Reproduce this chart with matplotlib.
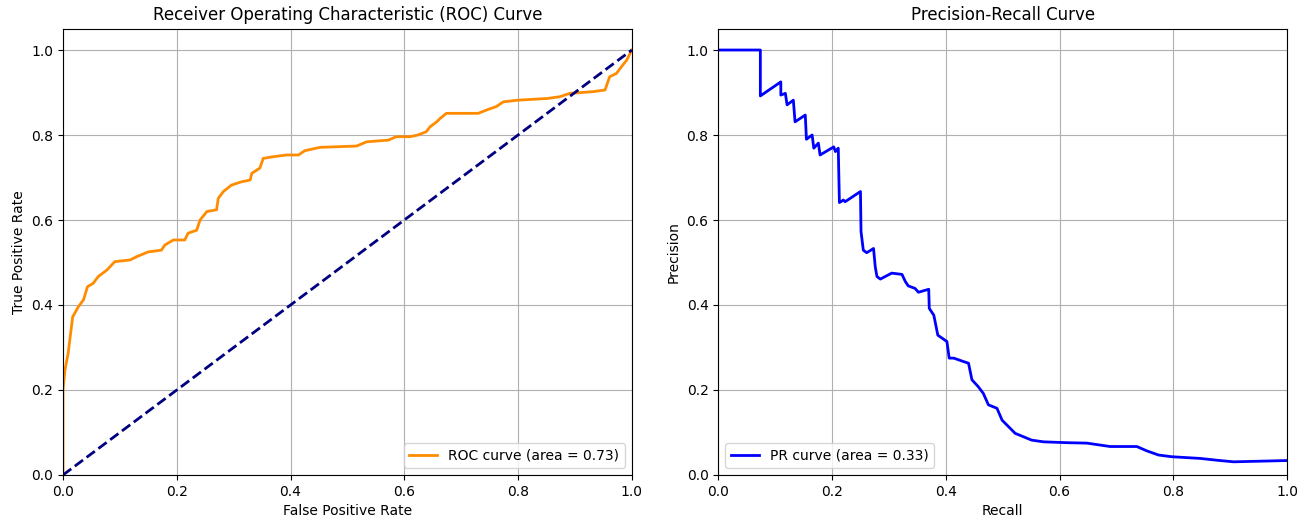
import matplotlib
matplotlib.use("Agg")
import matplotlib.pyplot as plt

# ROC curve points
fpr = [0.0, 0.0, 0.0035, 0.009, 0.017, 0.027, 0.036, 0.043, 0.053, 0.062, 0.077,
       0.091, 0.118, 0.13, 0.15, 0.173, 0.179, 0.194, 0.214, 0.22, 0.235, 0.241,
       0.253, 0.27, 0.273, 0.282, 0.296, 0.314, 0.329, 0.332, 0.346, 0.352, 0.37,
       0.393, 0.414, 0.425, 0.452, 0.516, 0.534, 0.572, 0.586, 0.61, 0.624, 0.639,
       0.645, 0.657, 0.663, 0.674, 0.73, 0.745, 0.762, 0.774, 0.8, 0.852, 0.873,
       0.891, 0.932, 0.953, 0.961, 0.973, 0.982, 0.991, 1.0]
tpr = [0.0, 0.2, 0.247, 0.286, 0.372, 0.396, 0.412, 0.443, 0.451, 0.467, 0.482,
       0.502, 0.506, 0.514, 0.525, 0.529, 0.541, 0.553, 0.553, 0.569, 0.576, 0.6,
       0.62, 0.624, 0.651, 0.667, 0.682, 0.69, 0.694, 0.71, 0.722, 0.745, 0.749,
       0.753, 0.753, 0.763, 0.771, 0.774, 0.784, 0.788, 0.796, 0.796, 0.8, 0.808,
       0.819, 0.831, 0.839, 0.851, 0.851, 0.859, 0.867, 0.878, 0.882, 0.886, 0.89,
       0.898, 0.902, 0.906, 0.937, 0.945, 0.961, 0.976, 1.0]
roc_auc = 0.73

# Precision-recall points
recall = [0.0, 0.074, 0.074, 0.11, 0.11, 0.118, 0.121, 0.132, 0.135, 0.153, 0.155,
          0.165, 0.168, 0.176, 0.179, 0.203, 0.206, 0.211, 0.213, 0.22, 0.223, 0.25,
          0.251, 0.255, 0.261, 0.273, 0.276, 0.279, 0.285, 0.305, 0.323, 0.329,
          0.334, 0.346, 0.352, 0.37, 0.371, 0.379, 0.386, 0.402, 0.406, 0.414,
          0.431, 0.44, 0.446, 0.457, 0.466, 0.475, 0.49, 0.499, 0.522, 0.551,
          0.572, 0.613, 0.648, 0.689, 0.736, 0.753, 0.774, 0.797, 0.847, 0.882,
          0.906, 1.0]
precision = [1.0, 1.0, 0.892, 0.925, 0.894, 0.898, 0.871, 0.882, 0.831, 0.847, 0.79,
             0.8, 0.769, 0.781, 0.753, 0.772, 0.761, 0.769, 0.641, 0.647, 0.643, 0.667,
             0.573, 0.529, 0.523, 0.533, 0.49, 0.467, 0.461, 0.475, 0.472, 0.455,
             0.445, 0.439, 0.43, 0.437, 0.392, 0.376, 0.329, 0.314, 0.275, 0.275,
             0.267, 0.263, 0.224, 0.208, 0.192, 0.165, 0.157, 0.129, 0.098, 0.082,
             0.078, 0.076, 0.075, 0.067, 0.067, 0.057, 0.047, 0.043, 0.039, 0.034,
             0.031, 0.034]
pr_auc = 0.33

fig, (ax1, ax2) = plt.subplots(1, 2, figsize=(12.99, 5.23), dpi=100)
fig.subplots_adjust(left=0.0485, right=0.9908, bottom=0.0918, top=0.945, wspace=0.152)

ax1.plot(fpr, tpr, color="darkorange", lw=2, label=f"ROC curve (area = {roc_auc:.2f})")
ax1.plot([0, 1], [0, 1], color="navy", lw=2, linestyle="--")
ax1.set_xlim(0.0, 1.0)
ax1.set_ylim(0.0, 1.05)
ax1.set_xlabel("False Positive Rate")
ax1.set_ylabel("True Positive Rate")
ax1.set_title("Receiver Operating Characteristic (ROC) Curve")
ax1.legend(loc="lower right")
ax1.grid(True)

ax2.plot(recall, precision, color="blue", lw=2, label=f"PR curve (area = {pr_auc:.2f})")
ax2.set_xlim(0.0, 1.0)
ax2.set_ylim(0.0, 1.05)
ax2.set_xlabel("Recall")
ax2.set_ylabel("Precision")
ax2.set_title("Precision-Recall Curve")
ax2.legend(loc="lower left")
ax2.grid(True)

fig.savefig("out.png", dpi=100)
